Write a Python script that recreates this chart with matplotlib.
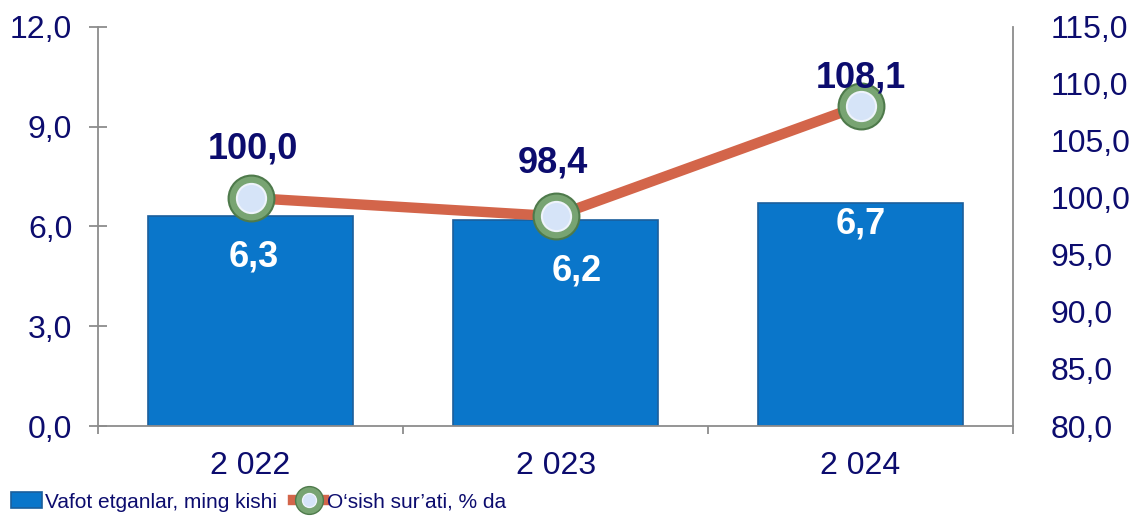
import matplotlib
matplotlib.use('Agg')
import matplotlib.pyplot as plt
from matplotlib.patches import Rectangle
from matplotlib.lines import Line2D
from matplotlib.legend_handler import HandlerTuple
import matplotlib.font_manager as fm

# ── Data ───────────────────────────────────────────────────
years = ['2 022', '2 023', '2 024']
deaths = [6.3, 6.2, 6.7]          # Vafot etganlar, ming kishi
growth = [100.0, 98.4, 108.1]     # O'sish sur'ati, % da
left_ticks = [0, 3, 6, 9, 12]
right_ticks = [80, 85, 90, 95, 100, 105, 110, 115]

# label offsets (points) as placed on the original
bar_off = [(2, -29), (15, -37), (0, -15)]
line_off = [(2, 35), (-2, 38), (0, 20)]

NAVY = '#0C0C6E'
AXIS = '#8C8C8C'
BAR = '#0A76CA'
LINE = '#D3654A'

plt.rcParams['font.family'] = ['Liberation Sans', 'DejaVu Sans']

available = set(f.name for f in fm.fontManager.ttflist)
if 'Liberation Sans Narrow' in available:
    leg_font, leg_size = 'Liberation Sans Narrow', 18
else:
    leg_font, leg_size = 'Liberation Sans', 15

fig = plt.figure(figsize=(11.32, 5.18), dpi=100)
ax = fig.add_axes([0.0866, 0.1776, 0.8084, 0.7704])
ax2 = ax.twinx()

x = list(range(len(years)))

# ── Bars ──
ax.bar(x, deaths, width=0.67, color=BAR, edgecolor='#1B5F9C', linewidth=1.2, zorder=2)
for i, v in enumerate(deaths):
    ax.annotate(f'{v:.1f}'.replace('.', ','), (x[i], v), xytext=bar_off[i],
                textcoords='offset points', ha='center', va='center',
                fontsize=26, fontweight='bold', color='white', zorder=5)

ax.set_xlim(-0.5, 2.5)
ax.set_ylim(0, 12)
ax.set_yticks(left_ticks)
ax.set_yticklabels([f'{t:.1f}'.replace('.', ',') for t in left_ticks])
ax.set_xticks(x)
ax.set_xticklabels(years)
ax.set_xticks([-0.5, 0.5, 1.5, 2.5], minor=True)

for side in ['top', 'right']:
    ax.spines[side].set_visible(False)
for side in ['left', 'bottom']:
    ax.spines[side].set_color(AXIS)
    ax.spines[side].set_linewidth(1.3)

ax.tick_params(axis='y', direction='inout', length=13, width=1.3, color=AXIS,
               labelsize=23, labelcolor=NAVY, pad=12)
ax.tick_params(axis='x', which='major', direction='in', length=5, width=1.3,
               color=AXIS, labelsize=23, labelcolor=NAVY, pad=18)
ax.tick_params(axis='x', which='minor', direction='out', length=6, width=1.3, color=AXIS)

# ── Line ──
ax2.plot(x, growth, color=LINE, linewidth=7.5, solid_capstyle='butt', zorder=3)
ax2.plot(x, growth, 'o', markersize=33, markerfacecolor='#78A472',
         markeredgecolor='#4E7A4B', markeredgewidth=1.5, zorder=4)
ax2.plot(x, growth, 'o', markersize=21, markerfacecolor='#D6E4F8',
         markeredgecolor='#EEF3FB', markeredgewidth=1.5, zorder=5)
for i, v in enumerate(growth):
    ax2.annotate(f'{v:.1f}'.replace('.', ','), (x[i], v), xytext=line_off[i],
                 textcoords='offset points', ha='center', va='center',
                 fontsize=26, fontweight='bold', color=NAVY, zorder=6)

ax2.set_ylim(80, 115)
ax2.set_yticks(right_ticks)
ax2.set_yticklabels([f'{t:.1f}'.replace('.', ',') for t in right_ticks])
for side in ['top', 'left', 'bottom']:
    ax2.spines[side].set_visible(False)
ax2.spines['right'].set_color(AXIS)
ax2.spines['right'].set_linewidth(1.3)
ax2.spines['right'].set_bounds(80, 115)
ax2.tick_params(axis='y', length=0, labelsize=23, labelcolor=NAVY, pad=27)

# ── Legend ──
h_bar = Rectangle((0, 0), 1, 1, facecolor=BAR, edgecolor='#1B5F9C', linewidth=1.2)
h_line = Line2D([0], [0], color=LINE, linewidth=7.5, marker='o', markersize=20,
                markerfacecolor='#78A472', markeredgecolor='#4E7A4B')
h_dot = Line2D([0], [0], linestyle='none', marker='o', markersize=10,
               markerfacecolor='#D6E4F8', markeredgecolor='#EEF3FB')
fig.legend([h_bar, (h_line, h_dot)], ['Vafot etganlar, ming kishi', 'O‘sish sur’ati, % da'],
           handler_map={tuple: HandlerTuple(ndivide=1)},
           loc='lower left', bbox_to_anchor=(-0.003, -0.016), ncol=2, frameon=False,
           prop={'family': leg_font, 'size': leg_size}, labelcolor=NAVY,
           handlelength=1.5, handleheight=0.8, handletextpad=0.1,
           columnspacing=0.8, borderpad=0.2)

fig.savefig('out.png', dpi=100, facecolor='white')
